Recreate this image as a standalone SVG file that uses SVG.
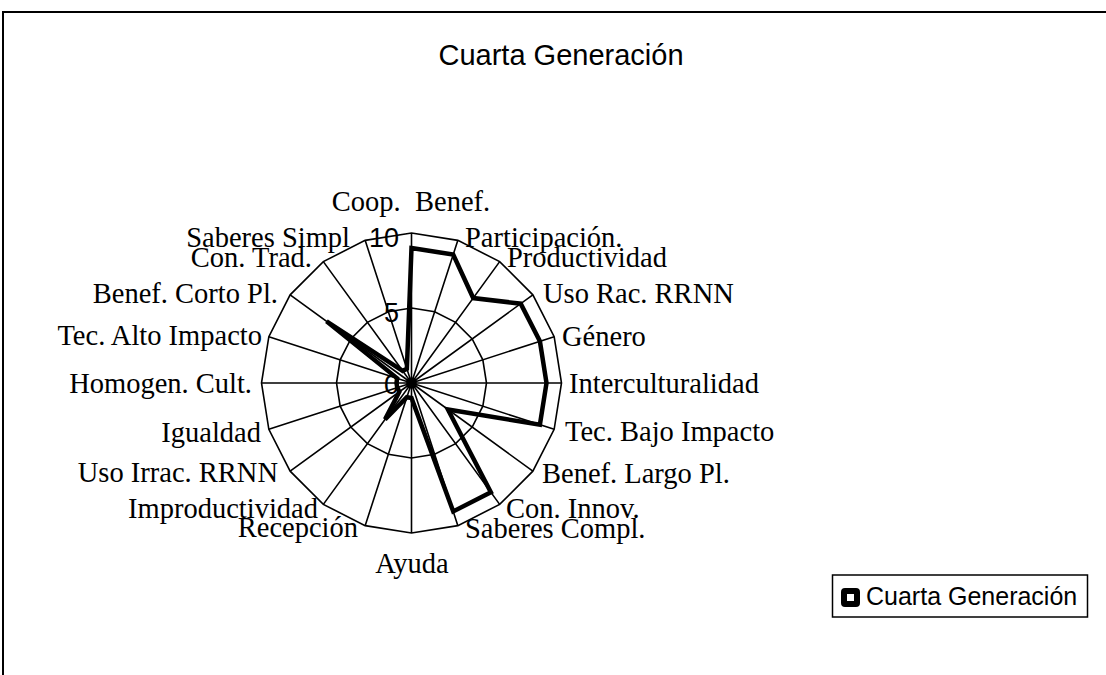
<svg xmlns="http://www.w3.org/2000/svg" width="1106" height="675" viewBox="0 0 1106 675">
<style>
.grid{fill:none;stroke:#000;stroke-width:1.6}
.lbl{font-family:"Liberation Serif","Times New Roman",serif;font-size:28.5px;fill:#000}
.ax{font-family:"Liberation Sans",Arial,sans-serif;font-size:27px;fill:#000}
.sans{font-family:"Liberation Sans",Arial,sans-serif;fill:#000}
.data{fill:none;stroke:#000;stroke-width:4.5;stroke-linejoin:miter}
</style>
<rect x="0" y="0" width="1106" height="675" fill="#fff"/>
<path d="M3,675 V12 H1106" fill="none" stroke="#000" stroke-width="2"/>
<text id="title" class="sans" x="561" y="65" font-size="29" text-anchor="middle">Cuarta Generación</text>
<g id="grid">
<polygon class="grid" points="411.5,233 457.85,240.34 499.67,261.65 532.85,294.83 554.16,336.65 561.5,383 554.16,429.35 532.85,471.17 499.67,504.35 457.85,525.66 411.5,533 365.15,525.66 323.33,504.35 290.15,471.17 268.84,429.35 261.5,383 268.84,336.65 290.15,294.83 323.33,261.65 365.15,240.34"/>
<polygon class="grid" points="411.5,308 434.68,311.67 455.59,322.33 472.18,338.92 482.83,359.83 486.5,383 482.83,406.17 472.18,427.08 455.59,443.68 434.68,454.33 411.5,458 388.33,454.33 367.42,443.68 350.83,427.08 340.17,406.17 336.5,383 340.17,359.83 350.83,338.92 367.42,322.33 388.33,311.67"/>
<path class="grid" d="M411.5,383L411.5,233M411.5,383L457.85,240.34M411.5,383L499.67,261.65M411.5,383L532.85,294.83M411.5,383L554.16,336.65M411.5,383L561.5,383M411.5,383L554.16,429.35M411.5,383L532.85,471.17M411.5,383L499.67,504.35M411.5,383L457.85,525.66M411.5,383L411.5,533M411.5,383L365.15,525.66M411.5,383L323.33,504.35M411.5,383L290.15,471.17M411.5,383L268.84,429.35M411.5,383L261.5,383M411.5,383L268.84,336.65M411.5,383L290.15,294.83M411.5,383L323.33,261.65M411.5,383L365.15,240.34"/>
</g>
<g id="axis-labels">
<text class="ax" x="399" y="247" text-anchor="end">10</text>
<text class="ax" x="399" y="322" text-anchor="end">5</text>
<text class="ax" x="399" y="394" text-anchor="end">0</text>
</g>
<g id="connectors">
<polygon class="data" points="411.5,248 453.22,254.6 473.22,298.05 520.72,303.65 539.9,341.28 546.5,383 539.9,424.72 447.91,409.45 490.85,492.22 453.22,511.4 411.5,398 406.86,397.27 385.05,419.41 399.36,391.82 397.23,387.64 396.5,383 397.23,378.36 326.55,321.28 402.68,370.86 406.86,368.73"/>
</g>
<g id="categories">
<text id="n0" class="lbl" x="411" y="211" text-anchor="middle" xml:space="preserve">Coop.  Benef.</text>
<text id="n1" class="lbl" x="465" y="247">Participación.</text>
<text id="n2" class="lbl" x="507" y="267">Productividad</text>
<text id="n3" class="lbl" x="543" y="303">Uso Rac. RRNN</text>
<text id="n4" class="lbl" x="562" y="346">Género</text>
<text id="n5" class="lbl" x="569" y="393">Interculturalidad</text>
<text id="n6" class="lbl" x="565" y="441">Tec. Bajo Impacto</text>
<text id="n7" class="lbl" x="542" y="483">Benef. Largo Pl.</text>
<text id="n8" class="lbl" x="506" y="518">Con. Innov.</text>
<text id="n9" class="lbl" x="465" y="538">Saberes Compl.</text>
<text id="n10" class="lbl" x="412" y="573" text-anchor="middle">Ayuda</text>
<text id="n11" class="lbl" x="358" y="537" text-anchor="end">Recepción</text>
<text id="n12" class="lbl" x="318" y="518" text-anchor="end">Improductividad</text>
<text id="n13" class="lbl" x="278" y="482" text-anchor="end">Uso Irrac. RRNN</text>
<text id="n14" class="lbl" x="261" y="442" text-anchor="end">Igualdad</text>
<text id="n15" class="lbl" x="252" y="393" text-anchor="end">Homogen. Cult.</text>
<text id="n16" class="lbl" x="262" y="345" text-anchor="end">Tec. Alto Impacto</text>
<text id="n17" class="lbl" x="278" y="303" text-anchor="end">Benef. Corto Pl.</text>
<text id="n18" class="lbl" x="312" y="267" text-anchor="end">Con. Trad.</text>
<text id="n19" class="lbl" x="350" y="247" text-anchor="end">Saberes Simpl</text>
</g>
<g id="legend">
<rect x="832.5" y="575" width="255" height="42" fill="#fff" stroke="#000" stroke-width="1.5"/>
<rect x="844" y="591" width="13" height="13" rx="1" fill="#fff" stroke="#000" stroke-width="6"/>
<text class="sans" x="866" y="605" font-size="25">Cuarta Generación</text>
</g>
</svg>
